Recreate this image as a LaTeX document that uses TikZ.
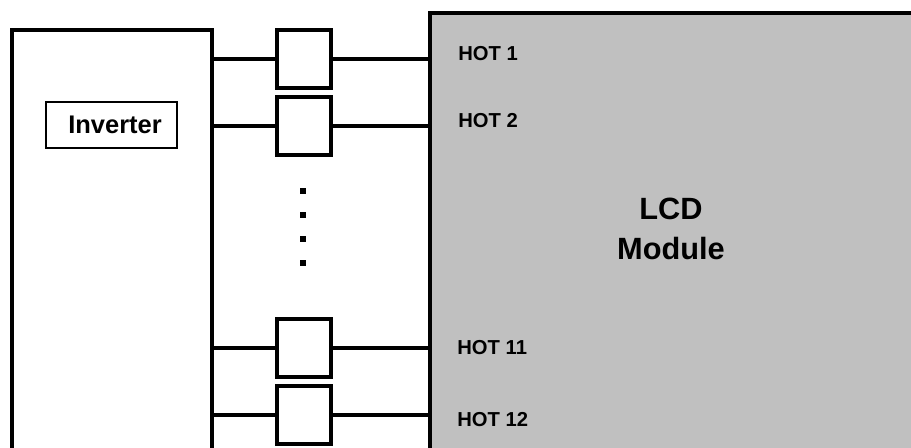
\documentclass[tikz,border=0pt]{standalone}
\usepackage{fontspec}
\setmainfont{Liberation Sans}
\usepackage{tikz}
\usetikzlibrary{positioning,calc}
\definecolor{PanelGray}{HTML}{C0C0C0}

\begin{document}
\begin{tikzpicture}[
  x=0.02cm,y=-0.02cm,
  unit/.style={draw,line width=2.1pt,inner sep=0pt,anchor=north west},
  fuse/.style={draw,line width=2.1pt,minimum width=1.08cm,minimum height=1.16cm,inner sep=0pt},
  wire/.style={line width=1.9pt},
  hot/.style={anchor=west,inner sep=0pt,font=\bfseries\fontsize{11.5}{13}\selectfont},
  dotmark/.style={fill,minimum size=0.11cm,inner sep=0pt}
]
\clip (0,0) rectangle (911,447);
% blocks
\node[unit,minimum width=4cm,minimum height=9cm] (inv) at (10,28) {};
\node[unit,fill=PanelGray,minimum width=10cm,minimum height=9cm] (lcd) at (428,11) {};
\node[draw,line width=1.1pt,minimum width=2.62cm,minimum height=0.92cm,inner sep=0pt,
  font=\bfseries\fontsize{14.5}{16}\selectfont] (invlabel) at (111.5,125) {\hspace{4pt}Inverter};
\node[font=\bfseries\fontsize{17.5}{22.7}\selectfont,align=center] (lcdlabel) at (671,229) {LCD\\Module};
% fuses
\node[fuse] (f1) at (304,59) {};
\node[fuse] (f2) at (304,126) {};
\node[fuse] (f11) at (304,348) {};
\node[fuse] (f12) at (304,415) {};
\foreach \f in {f1,f2,f11,f12}{
  \draw[wire] (inv.east |- \f.west) -- (\f.west);
  \draw[wire] (\f.east) -- (lcd.west |- \f.east);
}
% dots between
\node[dotmark] (d1) at (303,191) {};
\node[dotmark] (d2) at (303,215) {};
\node[dotmark] (d3) at (303,239) {};
\node[dotmark] (d4) at (303,263) {};
% labels
\node[hot] (h1) at (458,54) {HOT 1};
\node[hot] (h2) at (458,121) {HOT 2};
\node[hot] (h11) at (457,348) {HOT 11};
\node[hot] (h12) at (457,420) {HOT 12};
\end{tikzpicture}
\end{document}
